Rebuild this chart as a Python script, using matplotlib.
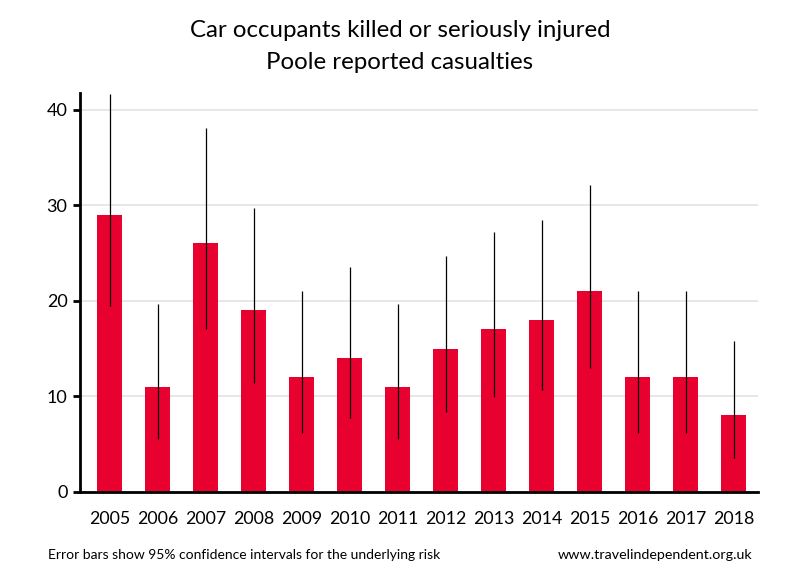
import matplotlib
matplotlib.use('Agg')
import matplotlib.pyplot as plt
import numpy as np

plt.rcParams['font.family'] = ['Lato', 'DejaVu Sans']

years = ['2005', '2006', '2007', '2008', '2009', '2010', '2011',
         '2012', '2013', '2014', '2015', '2016', '2017', '2018']
casualties = [29, 11, 26, 19, 12, 14, 11, 15, 17, 18, 21, 12, 12, 8]
ci_low = [19.4, 5.5, 17.0, 11.4, 6.2, 7.7, 5.5, 8.4, 9.9, 10.7, 13.0, 6.2, 6.2, 3.5]
ci_high = [41.6, 19.7, 38.1, 29.7, 21.0, 23.5, 19.7, 24.7, 27.2, 28.5, 32.1, 21.0, 21.0, 15.8]

red = '#e8002f'

fig = plt.figure(figsize=(8, 5.8), dpi=100)
ax = fig.add_axes([0.1, 0.152, 0.8475, 0.687])

x = np.arange(len(years))
ax.bar(x, casualties, width=0.52, color=red, zorder=2)
ax.vlines(x, ci_low, ci_high, color='black', linewidth=0.9, zorder=3)

ax.set_xlim(-0.615, 13.51)
ax.set_ylim(0, 41.7)
ax.set_yticks([0, 10, 20, 30, 40])
ax.set_xticks(x)
ax.set_xticklabels(years)
ax.grid(axis='y', color='#e3e3e3', linewidth=1.2, zorder=0)
ax.set_axisbelow(True)

for s in ['top', 'right']:
    ax.spines[s].set_visible(False)
ax.spines['left'].set_linewidth(2)
ax.spines['bottom'].set_linewidth(2)
ax.tick_params(axis='y', length=5, width=2, labelsize=13, pad=4)
ax.tick_params(axis='x', length=0, labelsize=12.8, pad=14)

fig.text(0.5, 0.948, 'Car occupants killed or seriously injured', ha='center', va='center', fontsize=17.3)
fig.text(0.5, 0.893, 'Poole reported casualties', ha='center', va='center', fontsize=17.3)
fig.text(0.06, 0.043, 'Error bars show 95% confidence intervals for the underlying risk', ha='left', va='center', fontsize=10)
fig.text(0.94, 0.043, 'www.travelindependent.org.uk', ha='right', va='center', fontsize=10.3)

fig.savefig('out.png', dpi=100)
